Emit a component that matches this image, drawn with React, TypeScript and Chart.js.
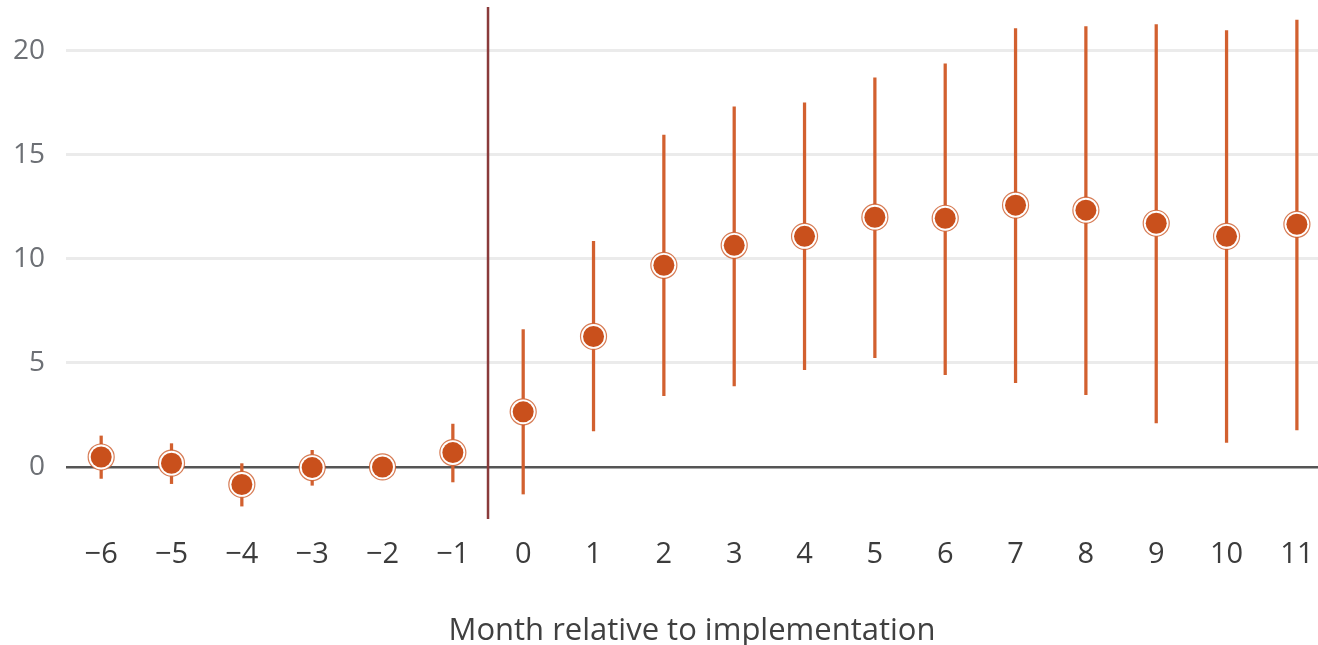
import React, { useEffect, useRef } from "react";
import { Chart, registerables } from "chart.js";

Chart.register(...registerables);

const months = [-6, -5, -4, -3, -2, -1, 0, 1, 2, 3, 4, 5, 6, 7, 8, 9, 10, 11];
const estimates = [0.48, 0.18, -0.84, -0.03, 0, 0.69, 2.65, 6.27, 9.69, 10.65, 11.08, 12.0, 11.95, 12.58, 12.34, 11.71, 11.08, 11.66];
const ciLow = [-0.55, -0.8, -1.88, -0.88, null, -0.72, -1.3, 1.73, 3.42, 3.9, 4.67, 5.25, 4.43, 4.05, 3.47, 2.12, 1.18, 1.78];
const ciHigh = [1.49, 1.12, 0.16, 0.8, null, 2.06, 6.6, 10.84, 15.95, 17.3, 17.49, 18.7, 19.37, 21.06, 21.16, 21.25, 20.97, 21.47];
const yTicks = [0, 5, 10, 15, 20];
const implementationAt = -0.5;
const xTitle = "Month relative to implementation";

const ORANGE = "#c9501c";
const BAR = "#d2602f";

const fmt = (v: number) => (v < 0 ? "\u2212" + Math.abs(v) : String(v));

const vlinePlugin = {
  id: "vline",
  beforeDatasetsDraw(chart: any) {
    const { ctx, chartArea, scales } = chart;
    const x = scales.x.getPixelForValue(implementationAt);
    ctx.save();
    ctx.strokeStyle = "#8a3b3b";
    ctx.lineWidth = 2.5;
    ctx.beginPath();
    ctx.moveTo(x, chartArea.top);
    ctx.lineTo(x, chartArea.bottom);
    ctx.stroke();
    ctx.restore();
  },
};

export default function App() {
  const ref = useRef<HTMLCanvasElement>(null);
  useEffect(() => {
    const ctx = ref.current!.getContext("2d")!;
    const bars = months.map((m, i) =>
      ciLow[i] === null ? { x: m, y: null } : { x: m, y: [ciLow[i], ciHigh[i]] }
    );
    const pts = months.map((m, i) => ({ x: m, y: estimates[i] }));
    const chart = new Chart(ctx, {
      type: "bar",
      data: {
        datasets: [
          {
            type: "scatter",
            data: pts,
            pointRadius: 10.5,
            pointBackgroundColor: ORANGE,
            pointBorderWidth: 0,
            pointHoverRadius: 10.5,
            order: 1,
          } as any,
          {
            type: "scatter",
            data: pts,
            pointRadius: 13,
            pointBackgroundColor: "#ffffff",
            pointBorderColor: "rgba(201,80,28,0.75)",
            pointBorderWidth: 1.2,
            pointHoverRadius: 13,
            order: 2,
          } as any,
          {
            type: "bar",
            data: bars as any,
            backgroundColor: BAR,
            borderWidth: 0,
            barThickness: 2.6,
            order: 3,
          } as any,
        ],
      },
      options: {
        animation: false,
        responsive: false,
        layout: { autoPadding: false, padding: { top: 7, right: 0, left: 0, bottom: 0 } },
        plugins: { legend: { display: false }, tooltip: { enabled: false } },
        scales: {
          x: {
            type: "linear",
            offset: false,
            min: -6.5,
            max: 11.3,
            afterBuildTicks: (s: any) => {
              s.ticks = months.map((v) => ({ value: v }));
            },
            afterFit: (s: any) => {
              s.height = 126;
              s.paddingLeft = 0;
              s.paddingRight = 0;
            },
            grid: { display: false },
            border: { display: false },
            ticks: {
              callback: (v: any) => fmt(Number(v)),
              font: { family: "Open Sans", size: 29 },
              color: "#3c3c3c",
              padding: 10,
              maxRotation: 0,
              autoSkip: false,
            },
            title: {
              display: true,
              text: xTitle,
              font: { family: "Open Sans", size: 31 },
              color: "#404040",
              padding: { top: 0, bottom: -5 },
            },
          },
          y: {
            type: "linear",
            min: -2.5,
            max: 22.1,
            afterBuildTicks: (s: any) => {
              s.ticks = yTicks.map((v) => ({ value: v }));
            },
            afterFit: (s: any) => {
              s.width = 66;
              s.paddingTop = 0;
              s.paddingBottom = 0;
            },
            border: { display: false },
            grid: {
              drawTicks: false,
              color: (c: any) => (c.tick && c.tick.value === 0 ? "#555555" : "#ebebeb"),
              lineWidth: (c: any) => (c.tick && c.tick.value === 0 ? 2.5 : 3),
            },
            ticks: {
              callback: (v: any) => fmt(Number(v)),
              font: { family: "Open Sans", size: 28 },
              color: "#6d7075",
              padding: 21,
            },
          },
        },
      },
      plugins: [vlinePlugin],
    });
    return () => chart.destroy();
  }, []);
  return (
    <canvas
      ref={ref}
      width={1318}
      height={645}
      style={{ position: "absolute", left: 0, top: 0, width: 1318, height: 645, display: "block" }}
    />
  );
}
